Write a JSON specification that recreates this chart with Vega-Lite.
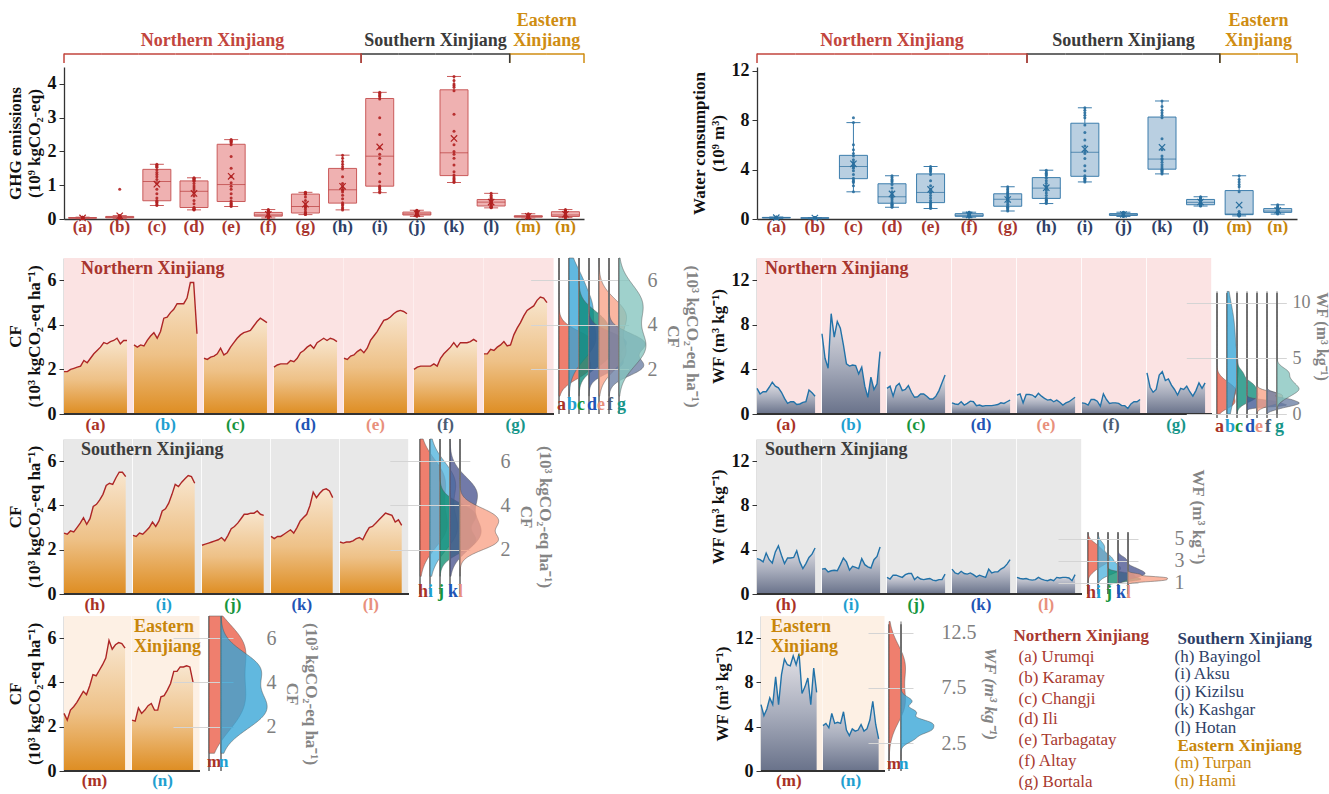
{
"$schema": "https://vega.github.io/schema/vega-lite/v6.json",
"padding": {"left": 5, "top": 12, "right": 0, "bottom": 0},
"background": "white",
"spacing": 1,
"resolve": {"scale": {"color": "independent", "fill": "independent", "stroke": "independent"}},
"config": {
  "font": "Liberation Serif",
  "view": {"stroke": null},
  "axis": {"labelFont": "Liberation Serif", "titleFont": "Liberation Serif", "labelFontSize": 18, "labelFontWeight": "bold", "labelColor": "#111111", "titleFontSize": 17, "titleFontWeight": "bold", "titleColor": "#111111", "domainColor": "#333333", "domainWidth": 1.3, "tickColor": "#333333", "tickSize": 5, "grid": false, "labelPadding": 3, "titlePadding": 4},
  "text": {"font": "Liberation Serif"},
  "title": {"font": "Liberation Serif"}
},
"datasets": {
"d": [
{"r":"a","t":2001,"cf":1.9,"wf":2.3,"g":0.01,"w":0.05},
{"r":"a","t":2002,"cf":1.9,"wf":1.8,"g":0.015,"w":0.06},
{"r":"a","t":2003,"cf":2.0,"wf":2.0,"g":0.02,"w":0.07},
{"r":"a","t":2004,"cf":2.05,"wf":2.0,"g":0.02,"w":0.08},
{"r":"a","t":2005,"cf":2.1,"wf":2.4,"g":0.02,"w":0.08},
{"r":"a","t":2006,"cf":2.15,"wf":2.85,"g":0.025,"w":0.09},
{"r":"a","t":2007,"cf":2.4,"wf":2.5,"g":0.025,"w":0.09},
{"r":"a","t":2008,"cf":2.3,"wf":2.35,"g":0.03,"w":0.1},
{"r":"a","t":2009,"cf":2.5,"wf":1.95,"g":0.03,"w":0.1},
{"r":"a","t":2010,"cf":2.7,"wf":1.4,"g":0.03,"w":0.1},
{"r":"a","t":2011,"cf":2.85,"wf":0.95,"g":0.03,"w":0.11},
{"r":"a","t":2012,"cf":3.0,"wf":1.1,"g":0.035,"w":0.11},
{"r":"a","t":2013,"cf":3.2,"wf":1.1,"g":0.035,"w":0.12},
{"r":"a","t":2014,"cf":3.15,"wf":0.85,"g":0.04,"w":0.12},
{"r":"a","t":2015,"cf":3.25,"wf":0.9,"g":0.04,"w":0.13},
{"r":"a","t":2016,"cf":3.3,"wf":1.05,"g":0.045,"w":0.13},
{"r":"a","t":2017,"cf":3.4,"wf":1.1,"g":0.045,"w":0.14},
{"r":"a","t":2018,"cf":3.15,"wf":2.15,"g":0.05,"w":0.14},
{"r":"a","t":2019,"cf":3.3,"wf":1.9,"g":0.05,"w":0.15},
{"r":"a","t":2020,"cf":3.3,"wf":1.6,"g":0.055,"w":0.16},
{"r":"b","t":2001,"cf":3.1,"wf":7.2,"g":0.01,"w":0.03},
{"r":"b","t":2002,"cf":3.0,"wf":5.0,"g":0.02,"w":0.04},
{"r":"b","t":2003,"cf":3.1,"wf":4.1,"g":0.02,"w":0.04},
{"r":"b","t":2004,"cf":3.05,"wf":9.0,"g":0.03,"w":0.05},
{"r":"b","t":2005,"cf":3.3,"wf":6.9,"g":0.03,"w":0.05},
{"r":"b","t":2006,"cf":3.5,"wf":8.3,"g":0.035,"w":0.06},
{"r":"b","t":2007,"cf":3.65,"wf":7.7,"g":0.04,"w":0.06},
{"r":"b","t":2008,"cf":3.4,"wf":6.2,"g":0.04,"w":0.07},
{"r":"b","t":2009,"cf":3.7,"wf":4.5,"g":0.05,"w":0.07},
{"r":"b","t":2010,"cf":4.3,"wf":4.3,"g":0.05,"w":0.08},
{"r":"b","t":2011,"cf":4.35,"wf":4.4,"g":0.055,"w":0.08},
{"r":"b","t":2012,"cf":4.55,"wf":4.35,"g":0.06,"w":0.08},
{"r":"b","t":2013,"cf":4.7,"wf":3.6,"g":0.06,"w":0.09},
{"r":"b","t":2014,"cf":4.95,"wf":4.2,"g":0.07,"w":0.09},
{"r":"b","t":2015,"cf":4.95,"wf":2.5,"g":0.075,"w":0.1},
{"r":"b","t":2016,"cf":4.95,"wf":1.5,"g":0.08,"w":0.1},
{"r":"b","t":2017,"cf":5.2,"wf":3.3,"g":0.085,"w":0.11},
{"r":"b","t":2018,"cf":5.9,"wf":2.2,"g":0.09,"w":0.11},
{"r":"b","t":2019,"cf":5.9,"wf":2.7,"g":0.1,"w":0.12},
{"r":"b","t":2020,"cf":3.6,"wf":5.6,"g":0.88,"w":0.13},
{"r":"c","t":2001,"cf":2.5,"wf":2.3,"g":0.40,"w":2.2},
{"r":"c","t":2002,"cf":2.45,"wf":2.5,"g":0.43,"w":2.7},
{"r":"c","t":2003,"cf":2.55,"wf":1.6,"g":0.47,"w":2.95},
{"r":"c","t":2004,"cf":2.6,"wf":2.5,"g":0.50,"w":3.05},
{"r":"c","t":2005,"cf":2.7,"wf":2.75,"g":0.51,"w":3.15},
{"r":"c","t":2006,"cf":2.95,"wf":2.1,"g":0.55,"w":3.3},
{"r":"c","t":2007,"cf":2.65,"wf":2.2,"g":0.62,"w":3.6},
{"r":"c","t":2008,"cf":2.75,"wf":2.55,"g":0.75,"w":3.9},
{"r":"c","t":2009,"cf":3.0,"wf":1.95,"g":0.88,"w":4.1},
{"r":"c","t":2010,"cf":3.2,"wf":1.5,"g":1.05,"w":4.2},
{"r":"c","t":2011,"cf":3.4,"wf":1.55,"g":1.17,"w":4.3},
{"r":"c","t":2012,"cf":3.55,"wf":1.8,"g":1.25,"w":4.45},
{"r":"c","t":2013,"cf":3.65,"wf":1.8,"g":1.32,"w":4.6},
{"r":"c","t":2014,"cf":3.7,"wf":1.6,"g":1.38,"w":4.8},
{"r":"c","t":2015,"cf":3.75,"wf":1.35,"g":1.45,"w":5.1},
{"r":"c","t":2016,"cf":3.95,"wf":1.35,"g":1.53,"w":5.3},
{"r":"c","t":2017,"cf":4.15,"wf":1.6,"g":1.55,"w":5.6},
{"r":"c","t":2018,"cf":4.3,"wf":2.1,"g":1.58,"w":6.0},
{"r":"c","t":2019,"cf":4.2,"wf":2.8,"g":1.60,"w":7.8},
{"r":"c","t":2020,"cf":4.1,"wf":3.5,"g":1.62,"w":8.2},
{"r":"d","t":2001,"cf":2.1,"wf":1.0,"g":0.27,"w":0.95},
{"r":"d","t":2002,"cf":2.2,"wf":0.9,"g":0.28,"w":1.0},
{"r":"d","t":2003,"cf":2.25,"wf":0.85,"g":0.29,"w":1.1},
{"r":"d","t":2004,"cf":2.25,"wf":1.1,"g":0.30,"w":1.15},
{"r":"d","t":2005,"cf":2.25,"wf":0.8,"g":0.31,"w":1.2},
{"r":"d","t":2006,"cf":2.4,"wf":0.95,"g":0.35,"w":1.3},
{"r":"d","t":2007,"cf":2.35,"wf":1.15,"g":0.45,"w":1.4},
{"r":"d","t":2008,"cf":2.5,"wf":1.1,"g":0.55,"w":1.55},
{"r":"d","t":2009,"cf":2.75,"wf":0.75,"g":0.68,"w":1.7},
{"r":"d","t":2010,"cf":2.85,"wf":0.8,"g":0.78,"w":1.75},
{"r":"d","t":2011,"cf":3.0,"wf":0.7,"g":0.86,"w":1.85},
{"r":"d","t":2012,"cf":3.1,"wf":0.75,"g":0.92,"w":2.0},
{"r":"d","t":2013,"cf":2.95,"wf":0.75,"g":0.98,"w":2.2},
{"r":"d","t":2014,"cf":3.2,"wf":0.75,"g":1.05,"w":2.5},
{"r":"d","t":2015,"cf":3.3,"wf":0.8,"g":1.12,"w":2.8},
{"r":"d","t":2016,"cf":3.4,"wf":0.85,"g":1.15,"w":3.0},
{"r":"d","t":2017,"cf":3.3,"wf":1.0,"g":1.17,"w":3.1},
{"r":"d","t":2018,"cf":3.4,"wf":0.95,"g":1.19,"w":3.2},
{"r":"d","t":2019,"cf":3.35,"wf":1.1,"g":1.21,"w":3.35},
{"r":"d","t":2020,"cf":3.25,"wf":1.25,"g":1.22,"w":3.5},
{"r":"e","t":2001,"cf":2.5,"wf":1.7,"g":0.37,"w":0.85},
{"r":"e","t":2002,"cf":2.45,"wf":1.8,"g":0.40,"w":0.95},
{"r":"e","t":2003,"cf":2.6,"wf":1.0,"g":0.43,"w":1.05},
{"r":"e","t":2004,"cf":2.65,"wf":1.75,"g":0.46,"w":1.15},
{"r":"e","t":2005,"cf":2.8,"wf":1.75,"g":0.48,"w":1.25},
{"r":"e","t":2006,"cf":2.9,"wf":1.7,"g":0.53,"w":1.35},
{"r":"e","t":2007,"cf":2.75,"wf":1.5,"g":0.62,"w":1.5},
{"r":"e","t":2008,"cf":2.95,"wf":1.85,"g":0.75,"w":1.7},
{"r":"e","t":2009,"cf":3.3,"wf":1.6,"g":0.88,"w":1.9},
{"r":"e","t":2010,"cf":3.5,"wf":1.4,"g":0.97,"w":2.1},
{"r":"e","t":2011,"cf":3.7,"wf":1.25,"g":1.07,"w":2.2},
{"r":"e","t":2012,"cf":3.95,"wf":1.3,"g":1.25,"w":2.4},
{"r":"e","t":2013,"cf":4.2,"wf":1.1,"g":1.50,"w":2.7},
{"r":"e","t":2014,"cf":4.25,"wf":1.25,"g":1.85,"w":3.1},
{"r":"e","t":2015,"cf":4.35,"wf":1.05,"g":2.20,"w":3.6},
{"r":"e","t":2016,"cf":4.5,"wf":0.8,"g":2.25,"w":3.8},
{"r":"e","t":2017,"cf":4.6,"wf":1.0,"g":2.28,"w":3.9},
{"r":"e","t":2018,"cf":4.65,"wf":1.1,"g":2.30,"w":4.0},
{"r":"e","t":2019,"cf":4.6,"wf":1.3,"g":2.33,"w":4.1},
{"r":"e","t":2020,"cf":4.5,"wf":1.5,"g":2.35,"w":4.25},
{"r":"f","t":2001,"cf":2.0,"wf":1.0,"g":0.03,"w":0.15},
{"r":"f","t":2002,"cf":2.1,"wf":0.95,"g":0.04,"w":0.18},
{"r":"f","t":2003,"cf":2.15,"wf":0.8,"g":0.05,"w":0.2},
{"r":"f","t":2004,"cf":2.15,"wf":1.3,"g":0.06,"w":0.2},
{"r":"f","t":2005,"cf":2.15,"wf":1.3,"g":0.07,"w":0.2},
{"r":"f","t":2006,"cf":2.15,"wf":1.15,"g":0.09,"w":0.22},
{"r":"f","t":2007,"cf":2.25,"wf":0.7,"g":0.10,"w":0.25},
{"r":"f","t":2008,"cf":2.15,"wf":1.8,"g":0.11,"w":0.27},
{"r":"f","t":2009,"cf":2.5,"wf":1.3,"g":0.11,"w":0.28},
{"r":"f","t":2010,"cf":2.7,"wf":0.95,"g":0.12,"w":0.3},
{"r":"f","t":2011,"cf":2.85,"wf":1.0,"g":0.12,"w":0.3},
{"r":"f","t":2012,"cf":3.0,"wf":1.0,"g":0.13,"w":0.32},
{"r":"f","t":2013,"cf":3.2,"wf":0.95,"g":0.15,"w":0.35},
{"r":"f","t":2014,"cf":3.0,"wf":0.75,"g":0.17,"w":0.38},
{"r":"f","t":2015,"cf":3.2,"wf":0.75,"g":0.19,"w":0.42},
{"r":"f","t":2016,"cf":3.2,"wf":0.5,"g":0.21,"w":0.47},
{"r":"f","t":2017,"cf":3.2,"wf":0.9,"g":0.23,"w":0.5},
{"r":"f","t":2018,"cf":3.25,"wf":1.1,"g":0.25,"w":0.52},
{"r":"f","t":2019,"cf":3.35,"wf":1.1,"g":0.27,"w":0.54},
{"r":"f","t":2020,"cf":3.25,"wf":1.3,"g":0.28,"w":0.55},
{"r":"g","t":2001,"cf":2.7,"wf":3.7,"g":0.13,"w":0.65},
{"r":"g","t":2002,"cf":2.7,"wf":2.4,"g":0.14,"w":0.75},
{"r":"g","t":2003,"cf":2.9,"wf":1.95,"g":0.15,"w":0.85},
{"r":"g","t":2004,"cf":2.85,"wf":2.2,"g":0.16,"w":0.95},
{"r":"g","t":2005,"cf":3.0,"wf":3.5,"g":0.17,"w":0.98},
{"r":"g","t":2006,"cf":3.1,"wf":3.8,"g":0.18,"w":1.05},
{"r":"g","t":2007,"cf":3.25,"wf":3.0,"g":0.22,"w":1.2},
{"r":"g","t":2008,"cf":3.05,"wf":3.15,"g":0.28,"w":1.35},
{"r":"g","t":2009,"cf":3.1,"wf":2.6,"g":0.33,"w":1.5},
{"r":"g","t":2010,"cf":3.55,"wf":2.2,"g":0.36,"w":1.58},
{"r":"g","t":2011,"cf":3.85,"wf":1.7,"g":0.38,"w":1.62},
{"r":"g","t":2012,"cf":4.1,"wf":2.3,"g":0.45,"w":1.7},
{"r":"g","t":2013,"cf":4.4,"wf":2.2,"g":0.55,"w":1.8},
{"r":"g","t":2014,"cf":4.65,"wf":2.5,"g":0.65,"w":1.9},
{"r":"g","t":2015,"cf":4.75,"wf":2.0,"g":0.73,"w":2.02},
{"r":"g","t":2016,"cf":4.85,"wf":1.6,"g":0.76,"w":2.1},
{"r":"g","t":2017,"cf":5.1,"wf":2.1,"g":0.77,"w":2.2},
{"r":"g","t":2018,"cf":5.25,"wf":2.8,"g":0.78,"w":2.35},
{"r":"g","t":2019,"cf":5.2,"wf":2.3,"g":0.78,"w":2.45},
{"r":"g","t":2020,"cf":5.0,"wf":2.8,"g":0.79,"w":2.6},
{"r":"h","t":2001,"cf":2.75,"wf":3.2,"g":0.27,"w":1.25},
{"r":"h","t":2002,"cf":2.7,"wf":3.1,"g":0.30,"w":1.35},
{"r":"h","t":2003,"cf":2.85,"wf":2.9,"g":0.34,"w":1.45},
{"r":"h","t":2004,"cf":2.8,"wf":3.7,"g":0.40,"w":1.5},
{"r":"h","t":2005,"cf":3.0,"wf":3.1,"g":0.44,"w":1.57},
{"r":"h","t":2006,"cf":3.2,"wf":2.8,"g":0.48,"w":1.7},
{"r":"h","t":2007,"cf":3.45,"wf":3.8,"g":0.60,"w":1.9},
{"r":"h","t":2008,"cf":3.15,"wf":4.35,"g":0.70,"w":2.1},
{"r":"h","t":2009,"cf":3.4,"wf":3.5,"g":0.80,"w":2.3},
{"r":"h","t":2010,"cf":3.95,"wf":2.75,"g":0.85,"w":2.45},
{"r":"h","t":2011,"cf":4.05,"wf":3.25,"g":0.88,"w":2.55},
{"r":"h","t":2012,"cf":4.25,"wf":3.25,"g":0.95,"w":2.7},
{"r":"h","t":2013,"cf":4.5,"wf":3.3,"g":1.05,"w":2.9},
{"r":"h","t":2014,"cf":4.9,"wf":3.9,"g":1.25,"w":3.1},
{"r":"h","t":2015,"cf":5.0,"wf":2.9,"g":1.48,"w":3.3},
{"r":"h","t":2016,"cf":4.95,"wf":2.3,"g":1.55,"w":3.5},
{"r":"h","t":2017,"cf":5.25,"wf":2.75,"g":1.62,"w":3.6},
{"r":"h","t":2018,"cf":5.5,"wf":3.3,"g":1.70,"w":3.7},
{"r":"h","t":2019,"cf":5.5,"wf":3.6,"g":1.80,"w":3.8},
{"r":"h","t":2020,"cf":5.3,"wf":4.15,"g":1.89,"w":3.95},
{"r":"i","t":2001,"cf":2.65,"wf":2.25,"g":0.78,"w":3.0},
{"r":"i","t":2002,"cf":2.6,"wf":2.3,"g":0.82,"w":3.1},
{"r":"i","t":2003,"cf":2.75,"wf":2.0,"g":0.88,"w":3.2},
{"r":"i","t":2004,"cf":2.7,"wf":2.1,"g":0.92,"w":3.3},
{"r":"i","t":2005,"cf":2.85,"wf":2.15,"g":0.95,"w":3.32},
{"r":"i","t":2006,"cf":3.0,"wf":2.1,"g":0.98,"w":3.5},
{"r":"i","t":2007,"cf":3.25,"wf":2.65,"g":1.10,"w":3.9},
{"r":"i","t":2008,"cf":3.05,"wf":3.25,"g":1.35,"w":4.3},
{"r":"i","t":2009,"cf":3.3,"wf":2.9,"g":1.62,"w":4.9},
{"r":"i","t":2010,"cf":3.75,"wf":2.15,"g":1.80,"w":5.3},
{"r":"i","t":2011,"cf":3.85,"wf":2.5,"g":1.92,"w":5.5},
{"r":"i","t":2012,"cf":4.1,"wf":2.4,"g":2.10,"w":5.9},
{"r":"i","t":2013,"cf":4.5,"wf":2.3,"g":2.50,"w":6.4},
{"r":"i","t":2014,"cf":4.95,"wf":3.2,"g":3.00,"w":7.0},
{"r":"i","t":2015,"cf":4.85,"wf":2.65,"g":3.55,"w":7.6},
{"r":"i","t":2016,"cf":5.05,"wf":2.45,"g":3.62,"w":8.2},
{"r":"i","t":2017,"cf":5.2,"wf":2.35,"g":3.65,"w":8.4},
{"r":"i","t":2018,"cf":5.35,"wf":3.1,"g":3.68,"w":8.6},
{"r":"i","t":2019,"cf":5.3,"wf":3.4,"g":3.72,"w":8.8},
{"r":"i","t":2020,"cf":5.0,"wf":4.25,"g":3.75,"w":9.0},
{"r":"j","t":2001,"cf":2.2,"wf":1.5,"g":0.08,"w":0.2},
{"r":"j","t":2002,"cf":2.25,"wf":1.35,"g":0.09,"w":0.22},
{"r":"j","t":2003,"cf":2.3,"wf":1.7,"g":0.10,"w":0.25},
{"r":"j","t":2004,"cf":2.35,"wf":1.7,"g":0.10,"w":0.27},
{"r":"j","t":2005,"cf":2.4,"wf":1.6,"g":0.11,"w":0.28},
{"r":"j","t":2006,"cf":2.45,"wf":1.5,"g":0.12,"w":0.29},
{"r":"j","t":2007,"cf":2.55,"wf":1.75,"g":0.12,"w":0.3},
{"r":"j","t":2008,"cf":2.4,"wf":1.85,"g":0.13,"w":0.32},
{"r":"j","t":2009,"cf":2.65,"wf":1.85,"g":0.14,"w":0.33},
{"r":"j","t":2010,"cf":2.95,"wf":1.3,"g":0.15,"w":0.34},
{"r":"j","t":2011,"cf":3.05,"wf":1.55,"g":0.15,"w":0.36},
{"r":"j","t":2012,"cf":3.2,"wf":1.35,"g":0.16,"w":0.37},
{"r":"j","t":2013,"cf":3.4,"wf":1.3,"g":0.17,"w":0.38},
{"r":"j","t":2014,"cf":3.6,"wf":1.35,"g":0.18,"w":0.4},
{"r":"j","t":2015,"cf":3.6,"wf":1.4,"g":0.20,"w":0.43},
{"r":"j","t":2016,"cf":3.65,"wf":1.25,"g":0.22,"w":0.46},
{"r":"j","t":2017,"cf":3.65,"wf":1.2,"g":0.23,"w":0.48},
{"r":"j","t":2018,"cf":3.75,"wf":1.3,"g":0.24,"w":0.5},
{"r":"j","t":2019,"cf":3.6,"wf":1.3,"g":0.25,"w":0.52},
{"r":"j","t":2020,"cf":3.55,"wf":1.8,"g":0.26,"w":0.55},
{"r":"k","t":2001,"cf":2.6,"wf":2.25,"g":1.08,"w":3.65},
{"r":"k","t":2002,"cf":2.5,"wf":1.9,"g":1.12,"w":3.75},
{"r":"k","t":2003,"cf":2.6,"wf":1.8,"g":1.16,"w":3.85},
{"r":"k","t":2004,"cf":2.6,"wf":2.05,"g":1.20,"w":3.92},
{"r":"k","t":2005,"cf":2.7,"wf":1.85,"g":1.24,"w":3.98},
{"r":"k","t":2006,"cf":2.8,"wf":1.8,"g":1.30,"w":4.05},
{"r":"k","t":2007,"cf":2.9,"wf":1.9,"g":1.40,"w":4.2},
{"r":"k","t":2008,"cf":2.75,"wf":1.75,"g":1.60,"w":4.4},
{"r":"k","t":2009,"cf":3.0,"wf":1.55,"g":1.80,"w":4.6},
{"r":"k","t":2010,"cf":3.3,"wf":1.7,"g":1.92,"w":4.8},
{"r":"k","t":2011,"cf":3.45,"wf":1.6,"g":2.00,"w":4.9},
{"r":"k","t":2012,"cf":3.6,"wf":1.5,"g":2.20,"w":5.1},
{"r":"k","t":2013,"cf":4.0,"wf":2.25,"g":2.60,"w":5.6},
{"r":"k","t":2014,"cf":4.6,"wf":1.9,"g":3.10,"w":6.5},
{"r":"k","t":2015,"cf":4.35,"wf":2.0,"g":3.80,"w":8.2},
{"r":"k","t":2016,"cf":4.55,"wf":2.0,"g":3.90,"w":8.4},
{"r":"k","t":2017,"cf":4.7,"wf":2.25,"g":3.95,"w":8.6},
{"r":"k","t":2018,"cf":4.75,"wf":2.4,"g":4.00,"w":8.8},
{"r":"k","t":2019,"cf":4.65,"wf":2.7,"g":4.10,"w":9.1},
{"r":"k","t":2020,"cf":4.35,"wf":3.1,"g":4.22,"w":9.55},
{"r":"l","t":2001,"cf":2.35,"wf":1.5,"g":0.33,"w":1.05},
{"r":"l","t":2002,"cf":2.3,"wf":1.4,"g":0.34,"w":1.08},
{"r":"l","t":2003,"cf":2.35,"wf":1.35,"g":0.35,"w":1.1},
{"r":"l","t":2004,"cf":2.35,"wf":1.4,"g":0.36,"w":1.12},
{"r":"l","t":2005,"cf":2.4,"wf":1.3,"g":0.37,"w":1.14},
{"r":"l","t":2006,"cf":2.5,"wf":1.25,"g":0.39,"w":1.16},
{"r":"l","t":2007,"cf":2.55,"wf":1.3,"g":0.42,"w":1.2},
{"r":"l","t":2008,"cf":2.45,"wf":1.5,"g":0.45,"w":1.25},
{"r":"l","t":2009,"cf":2.75,"wf":1.35,"g":0.48,"w":1.3},
{"r":"l","t":2010,"cf":3.0,"wf":1.25,"g":0.49,"w":1.33},
{"r":"l","t":2011,"cf":3.05,"wf":1.2,"g":0.51,"w":1.37},
{"r":"l","t":2012,"cf":3.2,"wf":1.3,"g":0.52,"w":1.4},
{"r":"l","t":2013,"cf":3.35,"wf":1.2,"g":0.54,"w":1.45},
{"r":"l","t":2014,"cf":3.5,"wf":1.5,"g":0.56,"w":1.5},
{"r":"l","t":2015,"cf":3.65,"wf":1.45,"g":0.57,"w":1.57},
{"r":"l","t":2016,"cf":3.6,"wf":1.5,"g":0.60,"w":1.62},
{"r":"l","t":2017,"cf":3.55,"wf":1.5,"g":0.62,"w":1.65},
{"r":"l","t":2018,"cf":3.25,"wf":1.45,"g":0.66,"w":1.7},
{"r":"l","t":2019,"cf":3.35,"wf":1.2,"g":0.70,"w":1.75},
{"r":"l","t":2020,"cf":3.1,"wf":1.75,"g":0.76,"w":1.8},
{"r":"m","t":2001,"cf":2.6,"wf":6.0,"g":0.03,"w":0.25},
{"r":"m","t":2002,"cf":2.3,"wf":5.0,"g":0.04,"w":0.27},
{"r":"m","t":2003,"cf":2.75,"wf":5.6,"g":0.04,"w":0.29},
{"r":"m","t":2004,"cf":2.9,"wf":6.6,"g":0.05,"w":0.31},
{"r":"m","t":2005,"cf":3.1,"wf":6.0,"g":0.05,"w":0.33},
{"r":"m","t":2006,"cf":3.35,"wf":8.5,"g":0.055,"w":0.36},
{"r":"m","t":2007,"cf":3.6,"wf":6.0,"g":0.06,"w":0.37},
{"r":"m","t":2008,"cf":3.45,"wf":8.7,"g":0.065,"w":0.38},
{"r":"m","t":2009,"cf":3.85,"wf":10.1,"g":0.07,"w":0.39},
{"r":"m","t":2010,"cf":4.35,"wf":9.6,"g":0.075,"w":0.4},
{"r":"m","t":2011,"cf":4.3,"wf":9.5,"g":0.08,"w":0.41},
{"r":"m","t":2012,"cf":4.55,"wf":10.4,"g":0.085,"w":0.42},
{"r":"m","t":2013,"cf":4.8,"wf":9.6,"g":0.09,"w":0.45},
{"r":"m","t":2014,"cf":5.1,"wf":10.6,"g":0.09,"w":0.6},
{"r":"m","t":2015,"cf":5.9,"wf":7.0,"g":0.095,"w":2.2},
{"r":"m","t":2016,"cf":5.5,"wf":7.6,"g":0.10,"w":2.6},
{"r":"m","t":2017,"cf":5.7,"wf":8.4,"g":0.11,"w":2.8},
{"r":"m","t":2018,"cf":5.8,"wf":6.0,"g":0.12,"w":3.0},
{"r":"m","t":2019,"cf":5.75,"wf":9.3,"g":0.14,"w":3.2},
{"r":"m","t":2020,"cf":5.55,"wf":7.1,"g":0.155,"w":3.5},
{"r":"n","t":2001,"cf":2.3,"wf":4.1,"g":0.04,"w":0.4},
{"r":"n","t":2002,"cf":2.25,"wf":4.3,"g":0.05,"w":0.45},
{"r":"n","t":2003,"cf":2.85,"wf":3.9,"g":0.06,"w":0.48},
{"r":"n","t":2004,"cf":2.6,"wf":5.2,"g":0.06,"w":0.5},
{"r":"n","t":2005,"cf":2.75,"wf":4.3,"g":0.07,"w":0.52},
{"r":"n","t":2006,"cf":2.95,"wf":4.4,"g":0.075,"w":0.54},
{"r":"n","t":2007,"cf":3.05,"wf":4.3,"g":0.08,"w":0.56},
{"r":"n","t":2008,"cf":2.75,"wf":5.35,"g":0.09,"w":0.58},
{"r":"n","t":2009,"cf":2.75,"wf":3.7,"g":0.10,"w":0.6},
{"r":"n","t":2010,"cf":3.35,"wf":3.2,"g":0.11,"w":0.63},
{"r":"n","t":2011,"cf":3.4,"wf":3.8,"g":0.13,"w":0.66},
{"r":"n","t":2012,"cf":3.65,"wf":3.6,"g":0.14,"w":0.7},
{"r":"n","t":2013,"cf":3.95,"wf":3.7,"g":0.16,"w":0.74},
{"r":"n","t":2014,"cf":4.5,"wf":4.2,"g":0.18,"w":0.78},
{"r":"n","t":2015,"cf":4.5,"wf":3.6,"g":0.21,"w":0.83},
{"r":"n","t":2016,"cf":4.7,"wf":3.8,"g":0.23,"w":0.88},
{"r":"n","t":2017,"cf":4.7,"wf":4.6,"g":0.24,"w":0.93},
{"r":"n","t":2018,"cf":4.75,"wf":6.3,"g":0.25,"w":0.98},
{"r":"n","t":2019,"cf":4.7,"wf":4.2,"g":0.26,"w":1.05},
{"r":"n","t":2020,"cf":4.0,"wf":2.9,"g":0.28,"w":1.15}
],
"rg": [
{"r":"a","grp":"N"},{"r":"b","grp":"N"},{"r":"c","grp":"N"},{"r":"d","grp":"N"},{"r":"e","grp":"N"},{"r":"f","grp":"N"},{"r":"g","grp":"N"},{"r":"h","grp":"N"},
{"r":"i","grp":"S"},{"r":"j","grp":"S"},{"r":"k","grp":"S"},{"r":"l","grp":"S"},{"r":"m","grp":"E"},{"r":"n","grp":"E"}
],
"rw": [
{"r":"a","grp":"N"},{"r":"b","grp":"N"},{"r":"c","grp":"N"},{"r":"d","grp":"N"},{"r":"e","grp":"N"},{"r":"f","grp":"N"},{"r":"g","grp":"N"},
{"r":"h","grp":"S"},{"r":"i","grp":"S"},{"r":"j","grp":"S"},{"r":"k","grp":"S"},{"r":"l","grp":"S"},{"r":"m","grp":"E"},{"r":"n","grp":"E"}
],
"brg": [
{"s":"a","e":"h","c":"d","lab":"Northern Xinjiang","grp":"N"},
{"s":"i","e":"l","c":"j","lab":"Southern Xinjiang","grp":"S"},
{"s":"m","e":"n","c":"m","lab":"Eastern\nXinjiang","grp":"E"}
],
"brw": [
{"s":"a","e":"g","c":"d","lab":"Northern Xinjiang","grp":"N"},
{"s":"h","e":"l","c":"j","lab":"Southern Xinjiang","grp":"S"},
{"s":"m","e":"n","c":"m","lab":"Eastern\nXinjiang","grp":"E"}
],
"lg": [
{"col":"L","t":"Northern Xinjiang","g":"N","h":1},
{"col":"L","t":"(a) Urumqi","g":"N","h":0},
{"col":"L","t":"(b) Karamay","g":"N","h":0},
{"col":"L","t":"(c) Changji","g":"N","h":0},
{"col":"L","t":"(d) Ili","g":"N","h":0},
{"col":"L","t":"(e) Tarbagatay","g":"N","h":0},
{"col":"L","t":"(f) Altay","g":"N","h":0},
{"col":"L","t":"(g) Bortala","g":"N","h":0},
{"col":"R","t":"Southern Xinjiang","g":"S","h":1},
{"col":"R","t":"(h) Bayingol","g":"S","h":0},
{"col":"R","t":"(i) Aksu","g":"S","h":0},
{"col":"R","t":"(j) Kizilsu","g":"S","h":0},
{"col":"R","t":"(k) Kashgar","g":"S","h":0},
{"col":"R","t":"(l) Hotan","g":"S","h":0},
{"col":"R","t":"Eastern Xinjiang","g":"E","h":1},
{"col":"R","t":"(m) Turpan","g":"E","h":0},
{"col":"R","t":"(n) Hami","g":"E","h":0}
]
},
"vconcat": [
{
"resolve": {"scale": {"color": "independent", "fill": "independent", "stroke": "independent"}},
"hconcat": [
{
"width": 520, "height": 152,
"layer": [
{"data": {"name": "d"},
 "mark": {"type": "boxplot", "extent": 1.5, "size": 28, "outliers": false, "box": {"color": "#efb1b1", "stroke": "#c95a5a", "strokeWidth": 1}, "median": {"color": "#b83a3a", "strokeWidth": 1.2}, "rule": {"color": "#c95a5a"}, "ticks": {"color": "#c95a5a", "size": 14}},
 "encoding": {
  "x": {"field": "r", "type": "nominal", "scale": {"paddingInner": 0, "paddingOuter": 0}, "axis": {"title": " ", "titleFontSize": 12, "titlePadding": 26, "labels": false, "ticks": false, "domainWidth": 1.5}},
  "y": {"field": "g", "type": "quantitative", "scale": {"domain": [0, 4.5], "nice": false}, "axis": {"values": [0, 1, 2, 3, 4], "title": ["GHG emissions", "(10⁹ kgCO₂-eq)"]}}
 }},
{"data": {"name": "d"}, "mark": {"type": "circle", "size": 9, "color": "#b22222", "opacity": 0.9}, "encoding": {"x": {"field": "r", "type": "nominal", "axis": {"title": " ", "titleFontSize": 12, "titlePadding": 26, "labels": false, "ticks": false, "domainWidth": 1.5}}, "y": {"field": "g", "type": "quantitative", "axis": {"values": [0, 1, 2, 3, 4], "title": ["GHG emissions", "(10⁹ kgCO₂-eq)"]}}}},
{"data": {"name": "d"}, "mark": {"type": "point", "shape": "M-1,-1L1,1M-1,1L1,-1", "filled": false, "size": 40, "strokeWidth": 1.2, "color": "#b22222"}, "encoding": {"x": {"field": "r", "type": "nominal", "axis": {"title": " ", "titleFontSize": 12, "titlePadding": 26, "labels": false, "ticks": false, "domainWidth": 1.5}}, "y": {"field": "g", "type": "quantitative", "aggregate": "mean", "axis": {"values": [0, 1, 2, 3, 4], "title": ["GHG emissions", "(10⁹ kgCO₂-eq)"]}}}},
{"data": {"name": "rg"}, "mark": {"type": "bar"}, "encoding": {"x": {"field": "r", "type": "nominal", "axis": {"title": " ", "titleFontSize": 12, "titlePadding": 26, "labels": false, "ticks": false, "domainWidth": 1.5}}, "y": {"datum": 4.905, "axis": {"values": [0, 1, 2, 3, 4], "title": ["GHG emissions", "(10⁹ kgCO₂-eq)"]}}, "y2": {"datum": 4.86}, "fill": {"field": "grp", "type": "nominal", "scale": {"domain": ["N", "S", "E"], "range": ["#c2453d", "#3a3a3a", "#cf8d12"]}, "legend": null}}},
{"data": {"name": "brg"}, "mark": {"type": "rule", "strokeWidth": 1.5}, "encoding": {"x": {"field": "s", "type": "nominal", "bandPosition": 0, "axis": {"title": " ", "titleFontSize": 12, "titlePadding": 26, "labels": false, "ticks": false, "domainWidth": 1.5}}, "y": {"datum": 4.9, "axis": {"values": [0, 1, 2, 3, 4], "title": ["GHG emissions", "(10⁹ kgCO₂-eq)"]}}, "y2": {"datum": 4.62}, "stroke": {"field": "grp", "type": "nominal", "scale": {"domain": ["N", "S", "E"], "range": ["#c2453d", "#3a3a3a", "#cf8d12"]}, "legend": null}}},
{"data": {"name": "brg"}, "mark": {"type": "rule", "strokeWidth": 1.5}, "encoding": {"x": {"field": "e", "type": "nominal", "bandPosition": 1, "axis": {"title": " ", "titleFontSize": 12, "titlePadding": 26, "labels": false, "ticks": false, "domainWidth": 1.5}}, "y": {"datum": 4.9, "axis": {"values": [0, 1, 2, 3, 4], "title": ["GHG emissions", "(10⁹ kgCO₂-eq)"]}}, "y2": {"datum": 4.62}, "stroke": {"field": "grp", "type": "nominal", "legend": null}}},
{"data": {"name": "brg"}, "transform": [{"filter": "datum.grp !== 'E'"}], "mark": {"type": "text", "baseline": "bottom", "fontSize": 18, "fontWeight": "bold", "dy": -4}, "encoding": {"x": {"field": "c", "type": "nominal", "bandPosition": 1, "axis": {"title": " ", "titleFontSize": 12, "titlePadding": 26, "labels": false, "ticks": false, "domainWidth": 1.5}}, "y": {"datum": 4.88, "axis": {"values": [0, 1, 2, 3, 4], "title": ["GHG emissions", "(10⁹ kgCO₂-eq)"]}}, "text": {"field": "lab"}, "fill": {"field": "grp", "type": "nominal", "legend": null}}},
{"data": {"name": "brg"}, "transform": [{"filter": "datum.grp === 'E'"}], "mark": {"type": "text", "baseline": "bottom", "fontSize": 18, "fontWeight": "bold", "lineBreak": "\n", "dy": -24}, "encoding": {"x": {"field": "c", "type": "nominal", "bandPosition": 1, "axis": {"title": " ", "titleFontSize": 12, "titlePadding": 26, "labels": false, "ticks": false, "domainWidth": 1.5}}, "y": {"datum": 4.88, "axis": {"values": [0, 1, 2, 3, 4], "title": ["GHG emissions", "(10⁹ kgCO₂-eq)"]}}, "text": {"field": "lab"}, "fill": {"field": "grp", "type": "nominal", "legend": null}}},
{"data": {"name": "rg"}, "transform": [{"calculate": "'(' + datum.r + ')'", "as": "lab"}], "mark": {"type": "text", "baseline": "middle", "fontSize": 17, "fontWeight": "bold"}, "encoding": {"x": {"field": "r", "type": "nominal", "axis": {"title": " ", "titleFontSize": 12, "titlePadding": 26, "labels": false, "ticks": false, "domainWidth": 1.5}}, "y": {"datum": -0.25, "axis": {"values": [0, 1, 2, 3, 4], "title": ["GHG emissions", "(10⁹ kgCO₂-eq)"]}}, "text": {"field": "lab"}, "color": {"field": "r", "type": "nominal", "scale": {"domain": ["a","b","c","d","e","f","g","h","i","j","k","l","m","n"], "range": ["#a8342d","#a8342d","#a8342d","#a8342d","#a8342d","#a8342d","#a8342d","#2e3f68","#2e3f68","#2e3f68","#2e3f68","#2e3f68","#c8860a","#c8860a"]}, "legend": null}}}
]
},
{
"width": 540, "height": 152,
"layer": [
{"data": {"name": "d"},
 "mark": {"type": "boxplot", "extent": 1.5, "size": 28, "outliers": false, "box": {"color": "#b9cfe1", "stroke": "#3c7dac", "strokeWidth": 1}, "median": {"color": "#2c6d9c", "strokeWidth": 1.2}, "rule": {"color": "#3c7dac"}, "ticks": {"color": "#3c7dac", "size": 14}},
 "encoding": {
  "x": {"field": "r", "type": "nominal", "scale": {"paddingInner": 0, "paddingOuter": 0}, "axis": {"title": " ", "titleFontSize": 12, "titlePadding": 26, "labels": false, "ticks": false, "domainWidth": 1.5}},
  "y": {"field": "w", "type": "quantitative", "scale": {"domain": [0, 12.3], "nice": false}, "axis": {"values": [0, 4, 8, 12], "title": ["Water consumption", "(10⁹ m³)"]}}
 }},
{"data": {"name": "d"}, "mark": {"type": "circle", "size": 9, "color": "#2a6f9e", "opacity": 0.9}, "encoding": {"x": {"field": "r", "type": "nominal", "axis": {"title": " ", "titleFontSize": 12, "titlePadding": 26, "labels": false, "ticks": false, "domainWidth": 1.5}}, "y": {"field": "w", "type": "quantitative", "axis": {"values": [0, 4, 8, 12], "title": ["Water consumption", "(10⁹ m³)"]}}}},
{"data": {"name": "d"}, "mark": {"type": "point", "shape": "M-1,-1L1,1M-1,1L1,-1", "filled": false, "size": 40, "strokeWidth": 1.2, "color": "#2a6f9e"}, "encoding": {"x": {"field": "r", "type": "nominal", "axis": {"title": " ", "titleFontSize": 12, "titlePadding": 26, "labels": false, "ticks": false, "domainWidth": 1.5}}, "y": {"field": "w", "type": "quantitative", "aggregate": "mean", "axis": {"values": [0, 4, 8, 12], "title": ["Water consumption", "(10⁹ m³)"]}}}},
{"data": {"name": "rw"}, "mark": {"type": "bar"}, "encoding": {"x": {"field": "r", "type": "nominal", "axis": {"title": " ", "titleFontSize": 12, "titlePadding": 26, "labels": false, "ticks": false, "domainWidth": 1.5}}, "y": {"datum": 13.41, "axis": {"values": [0, 4, 8, 12], "title": ["Water consumption", "(10⁹ m³)"]}}, "y2": {"datum": 13.29}, "fill": {"field": "grp", "type": "nominal", "scale": {"domain": ["N", "S", "E"], "range": ["#c2453d", "#3a3a3a", "#cf8d12"]}, "legend": null}}},
{"data": {"name": "brw"}, "mark": {"type": "rule", "strokeWidth": 1.5}, "encoding": {"x": {"field": "s", "type": "nominal", "bandPosition": 0, "axis": {"title": " ", "titleFontSize": 12, "titlePadding": 26, "labels": false, "ticks": false, "domainWidth": 1.5}}, "y": {"datum": 13.4, "axis": {"values": [0, 4, 8, 12], "title": ["Water consumption", "(10⁹ m³)"]}}, "y2": {"datum": 12.62}, "stroke": {"field": "grp", "type": "nominal", "scale": {"domain": ["N", "S", "E"], "range": ["#c2453d", "#3a3a3a", "#cf8d12"]}, "legend": null}}},
{"data": {"name": "brw"}, "mark": {"type": "rule", "strokeWidth": 1.5}, "encoding": {"x": {"field": "e", "type": "nominal", "bandPosition": 1, "axis": {"title": " ", "titleFontSize": 12, "titlePadding": 26, "labels": false, "ticks": false, "domainWidth": 1.5}}, "y": {"datum": 13.4, "axis": {"values": [0, 4, 8, 12], "title": ["Water consumption", "(10⁹ m³)"]}}, "y2": {"datum": 12.62}, "stroke": {"field": "grp", "type": "nominal", "legend": null}}},
{"data": {"name": "brw"}, "transform": [{"filter": "datum.grp !== 'E'"}], "mark": {"type": "text", "baseline": "bottom", "fontSize": 18, "fontWeight": "bold", "dy": -4}, "encoding": {"x": {"field": "c", "type": "nominal", "bandPosition": 0.5, "axis": {"title": " ", "titleFontSize": 12, "titlePadding": 26, "labels": false, "ticks": false, "domainWidth": 1.5}}, "y": {"datum": 13.35, "axis": {"values": [0, 4, 8, 12], "title": ["Water consumption", "(10⁹ m³)"]}}, "text": {"field": "lab"}, "fill": {"field": "grp", "type": "nominal", "legend": null}}},
{"data": {"name": "brw"}, "transform": [{"filter": "datum.grp === 'E'"}], "mark": {"type": "text", "baseline": "bottom", "fontSize": 18, "fontWeight": "bold", "lineBreak": "\n", "dy": -24}, "encoding": {"x": {"field": "c", "type": "nominal", "bandPosition": 1, "axis": {"title": " ", "titleFontSize": 12, "titlePadding": 26, "labels": false, "ticks": false, "domainWidth": 1.5}}, "y": {"datum": 13.35, "axis": {"values": [0, 4, 8, 12], "title": ["Water consumption", "(10⁹ m³)"]}}, "text": {"field": "lab"}, "fill": {"field": "grp", "type": "nominal", "legend": null}}},
{"data": {"name": "rw"}, "transform": [{"calculate": "'(' + datum.r + ')'", "as": "lab"}], "mark": {"type": "text", "baseline": "middle", "fontSize": 17, "fontWeight": "bold"}, "encoding": {"x": {"field": "r", "type": "nominal", "axis": {"title": " ", "titleFontSize": 12, "titlePadding": 26, "labels": false, "ticks": false, "domainWidth": 1.5}}, "y": {"datum": -0.65, "axis": {"values": [0, 4, 8, 12], "title": ["Water consumption", "(10⁹ m³)"]}}, "text": {"field": "lab"}, "color": {"field": "r", "type": "nominal", "scale": {"domain": ["a","b","c","d","e","f","g","h","i","j","k","l","m","n"], "range": ["#a8342d","#a8342d","#a8342d","#a8342d","#a8342d","#a8342d","#a8342d","#2e3f68","#2e3f68","#2e3f68","#2e3f68","#2e3f68","#c8860a","#c8860a"]}, "legend": null}}}
]
}
],
"spacing": 105
},
{
"resolve": {"scale": {"color": "independent", "fill": "independent", "stroke": "independent"}},
"hconcat": [
{
"resolve": {"scale": {"color": "independent", "fill": "independent", "stroke": "independent"}},
"hconcat": [
{
"data": {"name": "d"},
"transform": [{"filter": {"field": "r", "oneOf": ["a", "b", "c", "d", "e", "f", "g"]}}],
"facet": {"column": {"field": "r", "type": "nominal", "header": {"labels": false, "title": null}}},
"spacing": 0,
"bounds": "flush",
"title": {"text": "Northern Xinjiang", "anchor": "start", "frame": "group", "orient": "top", "offset": -20, "dx": 17, "fontSize": 18, "fontWeight": "bold", "color": "#a8342d", "zindex": 1},
"spec": {
"width": 69.6, "height": 156,
"view": {"fill": "#fbe3e3", "stroke": null},
"layer": [
{"mark": {"type": "area", "color": {"gradient": "linear", "x1": 0, "y1": 1, "x2": 0, "y2": 0, "stops": [{"offset": 0, "color": "#de8d22"}, {"offset": 0.45, "color": "#eec187"}, {"offset": 1, "color": "#f8e6cf"}]}},
 "encoding": {"x": {"field": "t", "type": "quantitative", "scale": {"domain": [2001, 2022], "nice": false, "zero": false}, "axis": null}, "y": {"field": "cf", "type": "quantitative", "scale": {"domain": [0, 7], "nice": false}, "axis": {"values": [0, 2, 4, 6], "title": ["CF", "(10³ kgCO₂-eq ha⁻¹)"]}}}},
{"mark": {"type": "line", "color": "#ad2626", "strokeWidth": 1.4}, "encoding": {"x": {"field": "t", "type": "quantitative", "axis": null}, "y": {"field": "cf", "type": "quantitative", "axis": {"values": [0, 2, 4, 6], "title": ["CF", "(10³ kgCO₂-eq ha⁻¹)"]}}}},
{"mark": {"type": "rule", "color": "#333333", "strokeWidth": 1.5}, "encoding": {"y": {"datum": 0, "axis": {"values": [0, 2, 4, 6], "title": ["CF", "(10³ kgCO₂-eq ha⁻¹)"]}}}},
{"transform": [{"aggregate": [{"op": "count", "as": "n"}], "groupby": ["r"]}, {"calculate": "'(' + datum.r + ')'", "as": "lab"}],
 "mark": {"type": "text", "fontSize": 17, "fontWeight": "bold", "baseline": "middle"},
 "encoding": {"x": {"datum": 2010.5, "axis": null}, "y": {"datum": -0.5, "axis": {"values": [0, 2, 4, 6], "title": ["CF", "(10³ kgCO₂-eq ha⁻¹)"]}}, "text": {"field": "lab"}, "color": {"field": "r", "type": "nominal", "scale": {"domain": ["a","b","c","d","e","f","g","h","i","j","k","l","m","n"], "range": ["#a93226","#1f9fd0","#17953e","#1f55b5","#e8907c","#4b5c73","#17968a","#a93226","#1f9fd0","#17953e","#1f55b5","#e8907c","#a93226","#1f9fd0"]}, "legend": null}}}
]
}
},
{
"data": {"name": "d"},
"transform": [{"filter": {"field": "r", "oneOf": ["a", "b", "c", "d", "e", "f", "g"]}}],
"facet": {"column": {"field": "r", "type": "nominal", "header": {"labels": false, "title": null}}},
"spacing": 0,
"bounds": "flush",
"spec": {
"width": 9.6, "height": 156,
"layer": [
{"mark": {"type": "rule", "color": "#8c8c8c", "strokeWidth": 0.8}, "encoding": {"x": {"datum": 0, "axis": null}}},
{"transform": [{"density": "cf", "groupby": ["r"], "extent": [0.8, 7]}],
 "mark": {"type": "area", "orient": "horizontal", "fillOpacity": 0.78, "stroke": "#555555", "strokeWidth": 0.5},
 "encoding": {
  "y": {"field": "value", "type": "quantitative", "scale": {"domain": [0, 7], "nice": false}, "axis": {"orient": "right", "values": [2, 4, 6], "grid": true, "gridColor": "#d4d4d4", "domain": false, "ticks": false, "labelPadding": 18, "labelColor": "#7f7f7f", "labelFontWeight": "normal", "labelFontSize": 20, "title": ["(10³ kgCO₂-eq ha⁻¹)", "CF"], "titleColor": "#858585", "titleFontSize": 17, "titlePadding": 6}},
  "x": {"field": "density", "type": "quantitative", "stack": null, "scale": {"type": "sqrt", "range": [0, 38]}, "axis": null},
  "fill": {"field": "r", "type": "nominal", "scale": {"domain": ["a","b","c","d","e","f","g","h","i","j","k","l","m","n"], "range": ["#eb5b45","#35a4d6","#0c8a78","#3d5794","#f9a286","#6a7ea3","#84c4be","#eb5b45","#4fb3de","#0e8e70","#4a5590","#f9a286","#eb5b45","#35a4d6"]}, "legend": null}
 }},
{"transform": [{"aggregate": [{"op": "count", "as": "n"}], "groupby": ["r"]}],
 "mark": {"type": "text", "fontSize": 18, "fontWeight": "bold", "align": "left", "baseline": "middle", "dx": -2},
 "encoding": {"x": {"datum": 0, "axis": null}, "y": {"datum": 0.4, "axis": {"orient": "right", "values": [2, 4, 6], "grid": true, "gridColor": "#d4d4d4", "domain": false, "ticks": false, "labelPadding": 18, "labelColor": "#7f7f7f", "labelFontWeight": "normal", "labelFontSize": 20, "title": ["(10³ kgCO₂-eq ha⁻¹)", "CF"], "titleColor": "#858585", "titleFontSize": 17, "titlePadding": 6}}, "text": {"field": "r"}, "color": {"field": "r", "type": "nominal", "scale": {"domain": ["a","b","c","d","e","f","g","h","i","j","k","l","m","n"], "range": ["#a93226","#1f9fd0","#17953e","#1f55b5","#e8907c","#4b5c73","#17968a","#a93226","#1f9fd0","#17953e","#1f55b5","#e8907c","#a93226","#1f9fd0"]}, "legend": null}}}
]
}
}
],
"spacing": 2
},
{
"resolve": {"scale": {"color": "independent", "fill": "independent", "stroke": "independent"}},
"hconcat": [
{
"data": {"name": "d"},
"transform": [{"filter": {"field": "r", "oneOf": ["a", "b", "c", "d", "e", "f", "g"]}}],
"facet": {"column": {"field": "r", "type": "nominal", "header": {"labels": false, "title": null}}},
"spacing": 0,
"bounds": "flush",
"title": {"text": "Northern Xinjiang", "anchor": "start", "frame": "group", "orient": "top", "offset": -20, "dx": 8, "fontSize": 18, "fontWeight": "bold", "color": "#a8342d", "zindex": 1},
"spec": {
"width": 64.2, "height": 156,
"view": {"fill": "#fbe3e3", "stroke": null},
"layer": [
{"mark": {"type": "area", "color": {"gradient": "linear", "x1": 0, "y1": 1, "x2": 0, "y2": 0, "stops": [{"offset": 0, "color": "#69728a"}, {"offset": 0.5, "color": "#a9aebd"}, {"offset": 1, "color": "#e3e1e6"}]}},
 "encoding": {"x": {"field": "t", "type": "quantitative", "scale": {"domain": [2001, 2022], "nice": false, "zero": false}, "axis": null}, "y": {"field": "wf", "type": "quantitative", "scale": {"domain": [0, 14], "nice": false}, "axis": {"values": [0, 4, 8, 12], "title": "WF (m³ kg⁻¹)"}}}},
{"mark": {"type": "line", "color": "#2272a8", "strokeWidth": 1.4}, "encoding": {"x": {"field": "t", "type": "quantitative", "axis": null}, "y": {"field": "wf", "type": "quantitative", "axis": {"values": [0, 4, 8, 12], "title": "WF (m³ kg⁻¹)"}}}},
{"mark": {"type": "rule", "color": "#333333", "strokeWidth": 1.5}, "encoding": {"y": {"datum": 0, "axis": {"values": [0, 4, 8, 12], "title": "WF (m³ kg⁻¹)"}}}},
{"transform": [{"aggregate": [{"op": "count", "as": "n"}], "groupby": ["r"]}, {"calculate": "'(' + datum.r + ')'", "as": "lab"}],
 "mark": {"type": "text", "fontSize": 17, "fontWeight": "bold", "baseline": "middle"},
 "encoding": {"x": {"datum": 2010.5, "axis": null}, "y": {"datum": -1.0, "axis": {"values": [0, 4, 8, 12], "title": "WF (m³ kg⁻¹)"}}, "text": {"field": "lab"}, "color": {"field": "r", "type": "nominal", "scale": {"domain": ["a","b","c","d","e","f","g","h","i","j","k","l","m","n"], "range": ["#a93226","#1f9fd0","#17953e","#1f55b5","#e8907c","#4b5c73","#17968a","#a93226","#1f9fd0","#17953e","#1f55b5","#e8907c","#a93226","#1f9fd0"]}, "legend": null}}}
]
}
},
{
"data": {"name": "d"},
"transform": [{"filter": {"field": "r", "oneOf": ["a", "b", "c", "d", "e", "f", "g"]}}],
"facet": {"column": {"field": "r", "type": "nominal", "header": {"labels": false, "title": null}}},
"spacing": 0,
"bounds": "flush",
"spec": {
"width": 9.3, "height": 156,
"layer": [
{"mark": {"type": "rule", "color": "#8c8c8c", "strokeWidth": 0.8}, "encoding": {"x": {"datum": 0, "axis": null}, "y": {"datum": -0.3, "axis": {"orient": "right", "values": [0, 5, 10], "grid": true, "gridColor": "#d4d4d4", "domain": false, "ticks": false, "labelPadding": 5, "labelColor": "#7f7f7f", "labelFontWeight": "normal", "labelFontSize": 18, "title": "WF (m³ kg⁻¹)", "titleColor": "#858585", "titleFontSize": 16, "titlePadding": 3}}, "y2": {"datum": 10.8}}},
{"transform": [{"density": "wf", "groupby": ["r"], "extent": [0, 11]}],
 "mark": {"type": "area", "orient": "horizontal", "fillOpacity": 0.78, "stroke": "#555555", "strokeWidth": 0.5},
 "encoding": {
  "y": {"field": "value", "type": "quantitative", "scale": {"domain": [0, 14], "nice": false}, "axis": {"orient": "right", "values": [0, 5, 10], "grid": true, "gridColor": "#d4d4d4", "domain": false, "ticks": false, "labelPadding": 5, "labelColor": "#7f7f7f", "labelFontWeight": "normal", "labelFontSize": 18, "title": "WF (m³ kg⁻¹)", "titleColor": "#858585", "titleFontSize": 16, "titlePadding": 3}},
  "x": {"field": "density", "type": "quantitative", "stack": null, "scale": {"type": "sqrt", "range": [0, 40]}, "axis": null},
  "fill": {"field": "r", "type": "nominal", "scale": {"domain": ["a","b","c","d","e","f","g","h","i","j","k","l","m","n"], "range": ["#eb5b45","#35a4d6","#0c8a78","#3d5794","#f9a286","#6a7ea3","#84c4be","#eb5b45","#4fb3de","#0e8e70","#4a5590","#f9a286","#eb5b45","#35a4d6"]}, "legend": null}
 }},
{"transform": [{"aggregate": [{"op": "count", "as": "n"}], "groupby": ["r"]}],
 "mark": {"type": "text", "fontSize": 18, "fontWeight": "bold", "align": "left", "baseline": "middle", "dx": -2},
 "encoding": {"x": {"datum": 0, "axis": null}, "y": {"datum": -1.2, "axis": {"orient": "right", "values": [0, 5, 10], "grid": true, "gridColor": "#d4d4d4", "domain": false, "ticks": false, "labelPadding": 5, "labelColor": "#7f7f7f", "labelFontWeight": "normal", "labelFontSize": 18, "title": "WF (m³ kg⁻¹)", "titleColor": "#858585", "titleFontSize": 16, "titlePadding": 3}}, "text": {"field": "r"}, "color": {"field": "r", "type": "nominal", "scale": {"domain": ["a","b","c","d","e","f","g","h","i","j","k","l","m","n"], "range": ["#a93226","#1f9fd0","#17953e","#1f55b5","#e8907c","#4b5c73","#17968a","#a93226","#1f9fd0","#17953e","#1f55b5","#e8907c","#a93226","#1f9fd0"]}, "legend": null}}}
]
}
}
],
"spacing": 3
}
],
"spacing": 9
},
{
"resolve": {"scale": {"color": "independent", "fill": "independent", "stroke": "independent"}},
"hconcat": [
{
"resolve": {"scale": {"color": "independent", "fill": "independent", "stroke": "independent"}},
"hconcat": [
{
"data": {"name": "d"},
"transform": [{"filter": {"field": "r", "oneOf": ["h", "i", "j", "k", "l"]}}],
"facet": {"column": {"field": "r", "type": "nominal", "header": {"labels": false, "title": null}}},
"spacing": 0,
"bounds": "flush",
"title": {"text": "Southern Xinjiang", "anchor": "start", "frame": "group", "orient": "top", "offset": -20, "dx": 17, "fontSize": 18, "fontWeight": "bold", "color": "#3c3c3c", "zindex": 1},
"spec": {
"width": 68.2, "height": 155,
"view": {"fill": "#e8e8e8", "stroke": null},
"layer": [
{"mark": {"type": "area", "color": {"gradient": "linear", "x1": 0, "y1": 1, "x2": 0, "y2": 0, "stops": [{"offset": 0, "color": "#de8d22"}, {"offset": 0.45, "color": "#eec187"}, {"offset": 1, "color": "#f8e6cf"}]}},
 "encoding": {"x": {"field": "t", "type": "quantitative", "scale": {"domain": [2001, 2022], "nice": false, "zero": false}, "axis": null}, "y": {"field": "cf", "type": "quantitative", "scale": {"domain": [0, 7], "nice": false}, "axis": {"values": [0, 2, 4, 6], "title": ["CF", "(10³ kgCO₂-eq ha⁻¹)"]}}}},
{"mark": {"type": "line", "color": "#ad2626", "strokeWidth": 1.4}, "encoding": {"x": {"field": "t", "type": "quantitative", "axis": null}, "y": {"field": "cf", "type": "quantitative", "axis": {"values": [0, 2, 4, 6], "title": ["CF", "(10³ kgCO₂-eq ha⁻¹)"]}}}},
{"mark": {"type": "rule", "color": "#333333", "strokeWidth": 1.5}, "encoding": {"y": {"datum": 0, "axis": {"values": [0, 2, 4, 6], "title": ["CF", "(10³ kgCO₂-eq ha⁻¹)"]}}}},
{"transform": [{"aggregate": [{"op": "count", "as": "n"}], "groupby": ["r"]}, {"calculate": "'(' + datum.r + ')'", "as": "lab"}],
 "mark": {"type": "text", "fontSize": 17, "fontWeight": "bold", "baseline": "middle"},
 "encoding": {"x": {"datum": 2010.5, "axis": null}, "y": {"datum": -0.5, "axis": {"values": [0, 2, 4, 6], "title": ["CF", "(10³ kgCO₂-eq ha⁻¹)"]}}, "text": {"field": "lab"}, "color": {"field": "r", "type": "nominal", "scale": {"domain": ["a","b","c","d","e","f","g","h","i","j","k","l","m","n"], "range": ["#a93226","#1f9fd0","#17953e","#1f55b5","#e8907c","#4b5c73","#17968a","#a93226","#1f9fd0","#17953e","#1f55b5","#e8907c","#a93226","#1f9fd0"]}, "legend": null}}}
]
}
},
{
"data": {"name": "d"},
"transform": [{"filter": {"field": "r", "oneOf": ["h", "i", "j", "k", "l"]}}],
"facet": {"column": {"field": "r", "type": "nominal", "header": {"labels": false, "title": null}}},
"spacing": 0,
"bounds": "flush",
"spec": {
"width": 9.8, "height": 155,
"layer": [
{"mark": {"type": "rule", "color": "#8c8c8c", "strokeWidth": 0.8}, "encoding": {"x": {"datum": 0, "axis": null}}},
{"transform": [{"density": "cf", "groupby": ["r"], "extent": [0.8, 7]}],
 "mark": {"type": "area", "orient": "horizontal", "fillOpacity": 0.78, "stroke": "#555555", "strokeWidth": 0.5},
 "encoding": {
  "y": {"field": "value", "type": "quantitative", "scale": {"domain": [0, 7], "nice": false}, "axis": {"orient": "right", "values": [2, 4, 6], "grid": true, "gridColor": "#d4d4d4", "domain": false, "ticks": false, "labelPadding": 30, "labelColor": "#7f7f7f", "labelFontWeight": "normal", "labelFontSize": 20, "title": ["(10³ kgCO₂-eq ha⁻¹)", "CF"], "titleColor": "#858585", "titleFontSize": 17, "titlePadding": 6}},
  "x": {"field": "density", "type": "quantitative", "stack": null, "scale": {"type": "sqrt", "range": [0, 40]}, "axis": null},
  "fill": {"field": "r", "type": "nominal", "scale": {"domain": ["a","b","c","d","e","f","g","h","i","j","k","l","m","n"], "range": ["#eb5b45","#35a4d6","#0c8a78","#3d5794","#f9a286","#6a7ea3","#84c4be","#eb5b45","#4fb3de","#0e8e70","#4a5590","#f9a286","#eb5b45","#35a4d6"]}, "legend": null}
 }},
{"transform": [{"aggregate": [{"op": "count", "as": "n"}], "groupby": ["r"]}],
 "mark": {"type": "text", "fontSize": 18, "fontWeight": "bold", "align": "left", "baseline": "middle", "dx": -2},
 "encoding": {"x": {"datum": 0, "axis": null}, "y": {"datum": 0.1, "axis": {"orient": "right", "values": [2, 4, 6], "grid": true, "gridColor": "#d4d4d4", "domain": false, "ticks": false, "labelPadding": 30, "labelColor": "#7f7f7f", "labelFontWeight": "normal", "labelFontSize": 20, "title": ["(10³ kgCO₂-eq ha⁻¹)", "CF"], "titleColor": "#858585", "titleFontSize": 17, "titlePadding": 6}}, "text": {"field": "r"}, "color": {"field": "r", "type": "nominal", "scale": {"domain": ["a","b","c","d","e","f","g","h","i","j","k","l","m","n"], "range": ["#a93226","#1f9fd0","#17953e","#1f55b5","#e8907c","#4b5c73","#17968a","#a93226","#1f9fd0","#17953e","#1f55b5","#e8907c","#a93226","#1f9fd0"]}, "legend": null}}}
]
}
}
],
"spacing": 9
},
{
"resolve": {"scale": {"color": "independent", "fill": "independent", "stroke": "independent"}},
"hconcat": [
{
"data": {"name": "d"},
"transform": [{"filter": {"field": "r", "oneOf": ["h", "i", "j", "k", "l"]}}],
"facet": {"column": {"field": "r", "type": "nominal", "header": {"labels": false, "title": null}}},
"spacing": 0,
"bounds": "flush",
"title": {"text": "Southern Xinjiang", "anchor": "start", "frame": "group", "orient": "top", "offset": -20, "dx": 8, "fontSize": 18, "fontWeight": "bold", "color": "#3c3c3c", "zindex": 1},
"spec": {
"width": 64.2, "height": 155,
"view": {"fill": "#e8e8e8", "stroke": null},
"layer": [
{"mark": {"type": "area", "color": {"gradient": "linear", "x1": 0, "y1": 1, "x2": 0, "y2": 0, "stops": [{"offset": 0, "color": "#69728a"}, {"offset": 0.5, "color": "#a9aebd"}, {"offset": 1, "color": "#e3e1e6"}]}},
 "encoding": {"x": {"field": "t", "type": "quantitative", "scale": {"domain": [2001, 2022], "nice": false, "zero": false}, "axis": null}, "y": {"field": "wf", "type": "quantitative", "scale": {"domain": [0, 14], "nice": false}, "axis": {"values": [0, 4, 8, 12], "title": "WF (m³ kg⁻¹)"}}}},
{"mark": {"type": "line", "color": "#2272a8", "strokeWidth": 1.4}, "encoding": {"x": {"field": "t", "type": "quantitative", "axis": null}, "y": {"field": "wf", "type": "quantitative", "axis": {"values": [0, 4, 8, 12], "title": "WF (m³ kg⁻¹)"}}}},
{"mark": {"type": "rule", "color": "#333333", "strokeWidth": 1.5}, "encoding": {"y": {"datum": 0, "axis": {"values": [0, 4, 8, 12], "title": "WF (m³ kg⁻¹)"}}}},
{"transform": [{"aggregate": [{"op": "count", "as": "n"}], "groupby": ["r"]}, {"calculate": "'(' + datum.r + ')'", "as": "lab"}],
 "mark": {"type": "text", "fontSize": 17, "fontWeight": "bold", "baseline": "middle"},
 "encoding": {"x": {"datum": 2010.5, "axis": null}, "y": {"datum": -1.0, "axis": {"values": [0, 4, 8, 12], "title": "WF (m³ kg⁻¹)"}}, "text": {"field": "lab"}, "color": {"field": "r", "type": "nominal", "scale": {"domain": ["a","b","c","d","e","f","g","h","i","j","k","l","m","n"], "range": ["#a93226","#1f9fd0","#17953e","#1f55b5","#e8907c","#4b5c73","#17968a","#a93226","#1f9fd0","#17953e","#1f55b5","#e8907c","#a93226","#1f9fd0"]}, "legend": null}}}
]
}
},
{
"data": {"name": "d"},
"transform": [{"filter": {"field": "r", "oneOf": ["h", "i", "j", "k", "l"]}}],
"facet": {"column": {"field": "r", "type": "nominal", "header": {"labels": false, "title": null}}},
"spacing": 0,
"bounds": "flush",
"spec": {
"width": 10, "height": 155,
"layer": [
{"mark": {"type": "rule", "color": "#8c8c8c", "strokeWidth": 0.8}, "encoding": {"x": {"datum": 0, "axis": null}, "y": {"datum": 0, "axis": {"orient": "right", "values": [1, 3, 5], "grid": true, "gridColor": "#d4d4d4", "domain": false, "ticks": false, "labelPadding": 36, "labelColor": "#7f7f7f", "labelFontWeight": "normal", "labelFontSize": 20, "title": "WF (m³ kg⁻¹)", "titleColor": "#858585", "titleFontSize": 17, "titlePadding": 4}}, "y2": {"datum": 5.6}}},
{"transform": [{"density": "wf", "groupby": ["r"], "extent": [0, 5.5]}],
 "mark": {"type": "area", "orient": "horizontal", "fillOpacity": 0.78, "stroke": "#555555", "strokeWidth": 0.5},
 "encoding": {
  "y": {"field": "value", "type": "quantitative", "scale": {"domain": [0, 14], "nice": false}, "axis": {"orient": "right", "values": [1, 3, 5], "grid": true, "gridColor": "#d4d4d4", "domain": false, "ticks": false, "labelPadding": 36, "labelColor": "#7f7f7f", "labelFontWeight": "normal", "labelFontSize": 20, "title": "WF (m³ kg⁻¹)", "titleColor": "#858585", "titleFontSize": 17, "titlePadding": 4}},
  "x": {"field": "density", "type": "quantitative", "stack": null, "scale": {"type": "sqrt", "range": [0, 40]}, "axis": null},
  "fill": {"field": "r", "type": "nominal", "scale": {"domain": ["a","b","c","d","e","f","g","h","i","j","k","l","m","n"], "range": ["#eb5b45","#35a4d6","#0c8a78","#3d5794","#f9a286","#6a7ea3","#84c4be","#eb5b45","#4fb3de","#0e8e70","#4a5590","#f9a286","#eb5b45","#35a4d6"]}, "legend": null}
 }},
{"transform": [{"aggregate": [{"op": "count", "as": "n"}], "groupby": ["r"]}],
 "mark": {"type": "text", "fontSize": 18, "fontWeight": "bold", "align": "left", "baseline": "middle", "dx": -2},
 "encoding": {"x": {"datum": 0, "axis": null}, "y": {"datum": 0.1, "axis": {"orient": "right", "values": [1, 3, 5], "grid": true, "gridColor": "#d4d4d4", "domain": false, "ticks": false, "labelPadding": 36, "labelColor": "#7f7f7f", "labelFontWeight": "normal", "labelFontSize": 20, "title": "WF (m³ kg⁻¹)", "titleColor": "#858585", "titleFontSize": 17, "titlePadding": 4}}, "text": {"field": "r"}, "color": {"field": "r", "type": "nominal", "scale": {"domain": ["a","b","c","d","e","f","g","h","i","j","k","l","m","n"], "range": ["#a93226","#1f9fd0","#17953e","#1f55b5","#e8907c","#4b5c73","#17968a","#a93226","#1f9fd0","#17953e","#1f55b5","#e8907c","#a93226","#1f9fd0"]}, "legend": null}}}
]
}
}
],
"spacing": 4
}
],
"spacing": 156
},
{
"resolve": {"scale": {"color": "independent", "fill": "independent", "stroke": "independent"}},
"hconcat": [
{
"resolve": {"scale": {"color": "independent", "fill": "independent", "stroke": "independent"}},
"hconcat": [
{
"data": {"name": "d"},
"transform": [{"filter": {"field": "r", "oneOf": ["m", "n"]}}],
"facet": {"column": {"field": "r", "type": "nominal", "header": {"labels": false, "title": null}}},
"spacing": 0,
"bounds": "flush",
"title": {"text": ["Eastern", "Xinjiang"], "anchor": "start", "frame": "group", "orient": "top", "offset": -40, "dx": 70, "fontSize": 18, "fontWeight": "bold", "color": "#c8860a", "zindex": 1},
"spec": {
"width": 67.5, "height": 155,
"view": {"fill": "#fdf0e4", "stroke": null},
"layer": [
{"mark": {"type": "area", "color": {"gradient": "linear", "x1": 0, "y1": 1, "x2": 0, "y2": 0, "stops": [{"offset": 0, "color": "#de8d22"}, {"offset": 0.45, "color": "#eec187"}, {"offset": 1, "color": "#f8e6cf"}]}},
 "encoding": {"x": {"field": "t", "type": "quantitative", "scale": {"domain": [2001, 2022], "nice": false, "zero": false}, "axis": null}, "y": {"field": "cf", "type": "quantitative", "scale": {"domain": [0, 7], "nice": false}, "axis": {"values": [0, 2, 4, 6], "title": ["CF", "(10³ kgCO₂-eq ha⁻¹)"]}}}},
{"mark": {"type": "line", "color": "#ad2626", "strokeWidth": 1.4}, "encoding": {"x": {"field": "t", "type": "quantitative", "axis": null}, "y": {"field": "cf", "type": "quantitative", "axis": {"values": [0, 2, 4, 6], "title": ["CF", "(10³ kgCO₂-eq ha⁻¹)"]}}}},
{"mark": {"type": "rule", "color": "#333333", "strokeWidth": 1.5}, "encoding": {"y": {"datum": 0, "axis": {"values": [0, 2, 4, 6], "title": ["CF", "(10³ kgCO₂-eq ha⁻¹)"]}}}},
{"transform": [{"aggregate": [{"op": "count", "as": "n"}], "groupby": ["r"]}, {"calculate": "'(' + datum.r + ')'", "as": "lab"}],
 "mark": {"type": "text", "fontSize": 17, "fontWeight": "bold", "baseline": "middle"},
 "encoding": {"x": {"datum": 2010.5, "axis": null}, "y": {"datum": -0.45, "axis": {"values": [0, 2, 4, 6], "title": ["CF", "(10³ kgCO₂-eq ha⁻¹)"]}}, "text": {"field": "lab"}, "color": {"field": "r", "type": "nominal", "scale": {"domain": ["a","b","c","d","e","f","g","h","i","j","k","l","m","n"], "range": ["#a93226","#1f9fd0","#17953e","#1f55b5","#e8907c","#4b5c73","#17968a","#a93226","#1f9fd0","#17953e","#1f55b5","#e8907c","#a93226","#1f9fd0"]}, "legend": null}}}
]
}
},
{
"data": {"name": "d"},
"transform": [{"filter": {"field": "r", "oneOf": ["m", "n"]}}],
"facet": {"column": {"field": "r", "type": "nominal", "header": {"labels": false, "title": null}}},
"spacing": 0,
"bounds": "flush",
"spec": {
"width": 12, "height": 155,
"layer": [
{"mark": {"type": "rule", "color": "#8c8c8c", "strokeWidth": 0.8}, "encoding": {"x": {"datum": 0, "axis": null}}},
{"transform": [{"density": "cf", "groupby": ["r"], "extent": [0.8, 7]}],
 "mark": {"type": "area", "orient": "horizontal", "fillOpacity": 0.78, "stroke": "#555555", "strokeWidth": 0.5},
 "encoding": {
  "y": {"field": "value", "type": "quantitative", "scale": {"domain": [0, 7], "nice": false}, "axis": {"orient": "right", "values": [2, 4, 6], "grid": true, "gridColor": "#d4d4d4", "domain": false, "ticks": false, "labelPadding": 33, "labelColor": "#7f7f7f", "labelFontWeight": "normal", "labelFontSize": 20, "title": ["(10³ kgCO₂-eq ha⁻¹)", "CF"], "titleColor": "#858585", "titleFontSize": 17, "titlePadding": 6}},
  "x": {"field": "density", "type": "quantitative", "stack": null, "scale": {"type": "sqrt", "range": [0, 48]}, "axis": null},
  "fill": {"field": "r", "type": "nominal", "scale": {"domain": ["a","b","c","d","e","f","g","h","i","j","k","l","m","n"], "range": ["#eb5b45","#35a4d6","#0c8a78","#3d5794","#f9a286","#6a7ea3","#84c4be","#eb5b45","#4fb3de","#0e8e70","#4a5590","#f9a286","#eb5b45","#35a4d6"]}, "legend": null}
 }},
{"transform": [{"aggregate": [{"op": "count", "as": "n"}], "groupby": ["r"]}],
 "mark": {"type": "text", "fontSize": 17, "fontWeight": "bold", "align": "left", "baseline": "middle", "dx": -2},
 "encoding": {"x": {"datum": 0, "axis": null}, "y": {"datum": 0.4, "axis": {"orient": "right", "values": [2, 4, 6], "grid": true, "gridColor": "#d4d4d4", "domain": false, "ticks": false, "labelPadding": 33, "labelColor": "#7f7f7f", "labelFontWeight": "normal", "labelFontSize": 20, "title": ["(10³ kgCO₂-eq ha⁻¹)", "CF"], "titleColor": "#858585", "titleFontSize": 17, "titlePadding": 6}}, "text": {"field": "r"}, "color": {"field": "r", "type": "nominal", "scale": {"domain": ["a","b","c","d","e","f","g","h","i","j","k","l","m","n"], "range": ["#a93226","#1f9fd0","#17953e","#1f55b5","#e8907c","#4b5c73","#17968a","#a93226","#1f9fd0","#17953e","#1f55b5","#e8907c","#a93226","#1f9fd0"]}, "legend": null}}}
]
}
}
],
"spacing": 5
},
{
"resolve": {"scale": {"color": "independent", "fill": "independent", "stroke": "independent"}},
"hconcat": [
{
"resolve": {"scale": {"color": "independent", "fill": "independent", "stroke": "independent"}},
"hconcat": [
{
"data": {"name": "d"},
"transform": [{"filter": {"field": "r", "oneOf": ["m", "n"]}}],
"facet": {"column": {"field": "r", "type": "nominal", "header": {"labels": false, "title": null}}},
"spacing": 0,
"bounds": "flush",
"title": {"text": ["Eastern", "Xinjiang"], "anchor": "start", "frame": "group", "orient": "top", "offset": -40, "dx": 10, "fontSize": 18, "fontWeight": "bold", "color": "#c8860a", "zindex": 1},
"spec": {
"width": 61.5, "height": 155,
"view": {"fill": "#fdf0e4", "stroke": null},
"layer": [
{"mark": {"type": "area", "color": {"gradient": "linear", "x1": 0, "y1": 1, "x2": 0, "y2": 0, "stops": [{"offset": 0, "color": "#69728a"}, {"offset": 0.5, "color": "#a9aebd"}, {"offset": 1, "color": "#e3e1e6"}]}},
 "encoding": {"x": {"field": "t", "type": "quantitative", "scale": {"domain": [2001, 2022], "nice": false, "zero": false}, "axis": null}, "y": {"field": "wf", "type": "quantitative", "scale": {"domain": [0, 14], "nice": false}, "axis": {"values": [0, 4, 8, 12], "title": "WF (m³ kg⁻¹)"}}}},
{"mark": {"type": "line", "color": "#2272a8", "strokeWidth": 1.4}, "encoding": {"x": {"field": "t", "type": "quantitative", "axis": null}, "y": {"field": "wf", "type": "quantitative", "axis": {"values": [0, 4, 8, 12], "title": "WF (m³ kg⁻¹)"}}}},
{"mark": {"type": "rule", "color": "#333333", "strokeWidth": 1.5}, "encoding": {"y": {"datum": 0, "axis": {"values": [0, 4, 8, 12], "title": "WF (m³ kg⁻¹)"}}}},
{"transform": [{"aggregate": [{"op": "count", "as": "n"}], "groupby": ["r"]}, {"calculate": "'(' + datum.r + ')'", "as": "lab"}],
 "mark": {"type": "text", "fontSize": 17, "fontWeight": "bold", "baseline": "middle"},
 "encoding": {"x": {"datum": 2010.5, "axis": null}, "y": {"datum": -0.9, "axis": {"values": [0, 4, 8, 12], "title": "WF (m³ kg⁻¹)"}}, "text": {"field": "lab"}, "color": {"field": "r", "type": "nominal", "scale": {"domain": ["a","b","c","d","e","f","g","h","i","j","k","l","m","n"], "range": ["#a93226","#1f9fd0","#17953e","#1f55b5","#e8907c","#4b5c73","#17968a","#a93226","#1f9fd0","#17953e","#1f55b5","#e8907c","#a93226","#1f9fd0"]}, "legend": null}}}
]
}
},
{
"data": {"name": "d"},
"transform": [{"filter": {"field": "r", "oneOf": ["m", "n"]}}],
"facet": {"column": {"field": "r", "type": "nominal", "header": {"labels": false, "title": null}}},
"spacing": 0,
"bounds": "flush",
"spec": {
"width": 12, "height": 155,
"layer": [
{"mark": {"type": "rule", "color": "#8c8c8c", "strokeWidth": 0.8}, "encoding": {"x": {"datum": 0, "axis": null}, "y": {"datum": 0, "axis": {"orient": "right", "values": [2.5, 7.5, 12.5], "format": ".1f", "grid": true, "gridColor": "#d4d4d4", "domain": false, "ticks": false, "labelPadding": 28, "labelColor": "#7f7f7f", "labelFontWeight": "normal", "labelFontSize": 20, "title": "WF (m³ kg⁻¹)", "titleColor": "#858585", "titleFontSize": 17, "titleFontStyle": "italic", "titlePadding": 4}}, "y2": {"datum": 13.2}}},
{"transform": [{"density": "wf", "groupby": ["r"], "extent": [1, 13.5]}],
 "mark": {"type": "area", "orient": "horizontal", "fillOpacity": 0.78, "stroke": "#555555", "strokeWidth": 0.5},
 "encoding": {
  "y": {"field": "value", "type": "quantitative", "scale": {"domain": [0, 14], "nice": false}, "axis": {"orient": "right", "values": [2.5, 7.5, 12.5], "format": ".1f", "grid": true, "gridColor": "#d4d4d4", "domain": false, "ticks": false, "labelPadding": 28, "labelColor": "#7f7f7f", "labelFontWeight": "normal", "labelFontSize": 20, "title": "WF (m³ kg⁻¹)", "titleColor": "#858585", "titleFontSize": 17, "titleFontStyle": "italic", "titlePadding": 4}},
  "x": {"field": "density", "type": "quantitative", "stack": null, "scale": {"type": "sqrt", "range": [0, 33]}, "axis": null},
  "fill": {"field": "r", "type": "nominal", "scale": {"domain": ["a","b","c","d","e","f","g","h","i","j","k","l","m","n"], "range": ["#eb5b45","#35a4d6","#0c8a78","#3d5794","#f9a286","#6a7ea3","#84c4be","#eb5b45","#4fb3de","#0e8e70","#4a5590","#f9a286","#eb5b45","#35a4d6"]}, "legend": null}
 }},
{"transform": [{"aggregate": [{"op": "count", "as": "n"}], "groupby": ["r"]}],
 "mark": {"type": "text", "fontSize": 17, "fontWeight": "bold", "align": "left", "baseline": "middle", "dx": -2},
 "encoding": {"x": {"datum": 0, "axis": null}, "y": {"datum": 0.6, "axis": {"orient": "right", "values": [2.5, 7.5, 12.5], "format": ".1f", "grid": true, "gridColor": "#d4d4d4", "domain": false, "ticks": false, "labelPadding": 28, "labelColor": "#7f7f7f", "labelFontWeight": "normal", "labelFontSize": 20, "title": "WF (m³ kg⁻¹)", "titleColor": "#858585", "titleFontSize": 17, "titleFontStyle": "italic", "titlePadding": 4}}, "text": {"field": "r"}, "color": {"field": "r", "type": "nominal", "scale": {"domain": ["a","b","c","d","e","f","g","h","i","j","k","l","m","n"], "range": ["#a93226","#1f9fd0","#17953e","#1f55b5","#e8907c","#4b5c73","#17968a","#a93226","#1f9fd0","#17953e","#1f55b5","#e8907c","#a93226","#1f9fd0"]}, "legend": null}}}
]
}
}
],
"spacing": 1
},
{
"resolve": {"scale": {"color": "independent", "fill": "independent", "stroke": "independent"}},
"hconcat": [
{
"data": {"name": "lg"},
"transform": [{"filter": "datum.col === 'L'"}],
"width": 1, "height": 166,
"encoding": {"y": {"field": "t", "type": "ordinal", "scale": {"type": "point", "padding": 0.5, "domain": ["Northern Xinjiang", "(a) Urumqi", "(b) Karamay", "(c) Changji", "(d) Ili", "(e) Tarbagatay", "(f) Altay", "(g) Bortala"]}, "axis": null}, "text": {"field": "t"}, "color": {"field": "g", "type": "nominal", "scale": {"domain": ["N", "S", "E"], "range": ["#a8392f", "#2e3f68", "#c8860a"]}, "legend": null}},
"layer": [
{"transform": [{"filter": "datum.h === 1"}], "mark": {"type": "text", "align": "left", "baseline": "middle", "fontSize": 17, "fontWeight": "bold", "dy": 10}},
{"transform": [{"filter": "datum.h === 0"}], "mark": {"type": "text", "align": "left", "baseline": "middle", "fontSize": 17, "fontWeight": "normal", "dy": 10, "dx": 5}}
]
},
{
"data": {"name": "lg"},
"transform": [{"filter": "datum.col === 'R'"}],
"width": 1, "height": 160,
"encoding": {"y": {"field": "t", "type": "ordinal", "scale": {"type": "point", "padding": 0.5, "domain": ["Southern Xinjiang", "(h) Bayingol", "(i) Aksu", "(j) Kizilsu", "(k) Kashgar", "(l) Hotan", "Eastern Xinjiang", "(m) Turpan", "(n) Hami"]}, "axis": null}, "text": {"field": "t"}, "color": {"field": "g", "type": "nominal", "scale": {"domain": ["N", "S", "E"], "range": ["#a8392f", "#2e3f68", "#c8860a"]}, "legend": null}},
"layer": [
{"transform": [{"filter": "datum.h === 1"}], "mark": {"type": "text", "align": "left", "baseline": "middle", "fontSize": 17, "fontWeight": "bold", "dy": 14}},
{"transform": [{"filter": "datum.h === 0"}], "mark": {"type": "text", "align": "left", "baseline": "middle", "fontSize": 17, "fontWeight": "normal", "dy": 14, "dx": -3}}
]
}
],
"spacing": 24
}
],
"spacing": 15
}
],
"spacing": 394
}
]
}
